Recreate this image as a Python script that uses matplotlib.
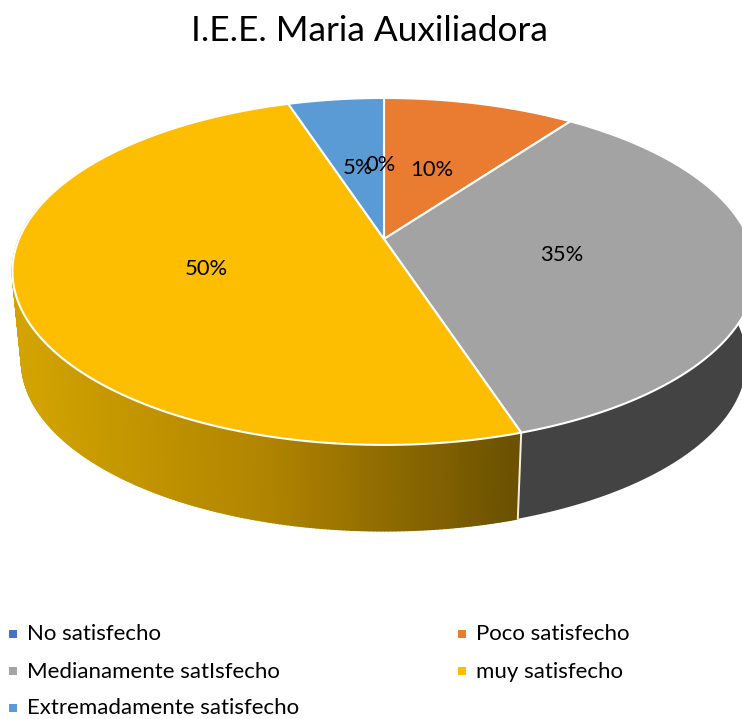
"""Render the I.E.E. Maria Auxiliadora satisfaction pie as a tilted 3D disc."""
from __future__ import annotations

import matplotlib
import numpy as np

matplotlib.use("Agg")
import matplotlib.pyplot as plt  # noqa: E402
from matplotlib.collections import PolyCollection  # noqa: E402
from matplotlib.colors import LinearSegmentedColormap  # noqa: E402
from matplotlib.patches import Polygon  # noqa: E402

TITLE = "I.E.E. Maria Auxiliadora"
categories = [
    "No satisfecho",
    "Poco satisfecho",
    "Medianamente satIsfecho",
    "muy satisfecho",
    "Extremadamente satisfecho",
]
values = [0, 10, 35, 50, 5]
colors = ["#4472C4", "#E97C30", "#A3A3A3", "#FDBD00", "#5B9BD5"]

# layout, in reference pixels
TOP_RING = dict(cx=384, cy=239, a=167.4, b=365)
BOTTOM_RING = dict(cx=384, cy=329, a=164, b=356)
TILT = 0.187
LABEL_XY = [(381, 165), (432, 170), (562, 255), (206, 269), (358, 168)]
LEGEND_XY = [(13, 634), (462, 634), (13, 671), (462, 671), (13, 708)]

plt.rcParams["font.family"] = ["Lato", "DejaVu Sans"]


def ring(theta_deg, cx, cy, a, b, r=1.0):
    """Project clockwise-from-north angles on the disc to pixel coordinates."""
    t = np.radians(theta_deg)
    x, y = r * np.sin(t), r * np.cos(t)
    w = 1 + TILT * y
    return np.column_stack([cx + b * x / w, cy - a * y / w])


def draw_wall(ax, start, stop, cmap=None, color=None):
    """Side wall between the two rings; thin quads when a gradient runs along x."""
    t = np.linspace(start, stop, int(stop - start) * 2 + 2)
    upper, lower = ring(t, **TOP_RING), ring(t, **BOTTOM_RING)
    if cmap is None:
        ax.add_patch(Polygon(np.vstack([upper, lower[::-1]]), closed=True, facecolor=color,
                             edgecolor="none", zorder=1))
        return
    quads = [[upper[i], upper[i + 1], lower[i + 1], lower[i]] for i in range(len(t) - 1)]
    mid = (upper[:-1, 0] + upper[1:, 0]) / 2
    facecolors = cmap(np.clip((mid - 14) / (520 - 14), 0, 1))
    ax.add_collection(PolyCollection(quads, facecolors=facecolors, edgecolors=facecolors,
                                     linewidths=1.2, zorder=1))


def main() -> None:
    fig = plt.figure(figsize=(7.42, 7.19), dpi=100)
    ax = fig.add_axes([0, 0, 1, 1])
    ax.set_xlim(0, 742)
    ax.set_ylim(719, 0)
    ax.axis("off")

    edges = np.concatenate([[0], np.cumsum(values)]) * 3.6

    # walls: only the front half of the disc shows
    gold = LinearSegmentedColormap.from_list("gold", ["#D3A400", "#B08400", "#6A5000"])
    draw_wall(ax, 80, edges[3], color="#434343")
    draw_wall(ax, edges[3], 282, cmap=gold)
    seam = np.vstack([ring(edges[3], **TOP_RING), ring(edges[3], **BOTTOM_RING)])
    ax.plot(seam[:, 0], seam[:, 1], color="#F4F0E0", lw=1.4, zorder=2)

    # top face
    for i, value in enumerate(values):
        if value == 0:
            continue
        t = np.linspace(edges[i], edges[i + 1], int(value * 6) + 2)
        outline = np.vstack([ring(0, **TOP_RING), ring(t, **TOP_RING)])
        outline[0] = (TOP_RING["cx"], TOP_RING["cy"])
        ax.add_patch(Polygon(outline, closed=True, facecolor=colors[i], edgecolor="#FFFFFF",
                             lw=1.5, joinstyle="round", zorder=3))

    for value, (x, y) in zip(values, LABEL_XY):
        ax.text(x, y, f"{value}%", ha="center", va="center", fontsize=15.8, color="#000000", zorder=4)

    ax.text(369, 31, TITLE, ha="center", va="center", fontsize=25.4, color="#000000")

    for name, color, (x, y) in zip(categories, colors, LEGEND_XY):
        ax.scatter([x], [y], marker="s", s=36, color=color, linewidths=0)
        ax.text(x + 14, y + 0.5, name, ha="left", va="center", fontsize=16, color="#000000")

    fig.savefig("out.png", dpi=100)
    plt.close(fig)


if __name__ == "__main__":
    main()
